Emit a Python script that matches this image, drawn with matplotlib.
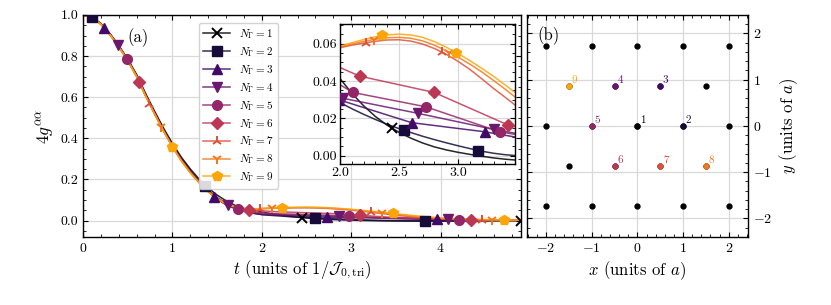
import numpy as np
import matplotlib
matplotlib.use('Agg')
import matplotlib.pyplot as plt
from matplotlib.ticker import AutoMinorLocator, MultipleLocator

plt.rcParams.update({
    'font.family': 'serif',
    'font.serif': ['cmr10'],
    'mathtext.fontset': 'cm',
    'axes.formatter.use_mathtext': True,
    'axes.unicode_minus': True,
    'axes.linewidth': 1.0,
    'xtick.direction': 'in', 'ytick.direction': 'in',
    'xtick.top': True, 'ytick.right': True,
    'xtick.major.size': 3.5, 'ytick.major.size': 3.5,
    'xtick.minor.size': 2.0, 'ytick.minor.size': 2.0,
    'xtick.major.width': 0.8, 'ytick.major.width': 0.8,
    'xtick.minor.width': 0.6, 'ytick.minor.width': 0.6,
    'xtick.minor.visible': True, 'ytick.minor.visible': True,
    'font.size': 10,
})

# ── data: 4 g^{aa}(t) for N_Gamma = 1..9 ────────────────────────────
t_early = [0.0, 0.1, 0.2, 0.3, 0.4, 0.5, 0.6, 0.7, 0.8, 0.9,
           1.0, 1.1, 1.2, 1.3, 1.4, 1.5, 1.6, 1.7, 1.8, 1.9]
t_tail = [2.0, 2.1, 2.2, 2.3, 2.4, 2.5, 2.6, 2.7, 2.8, 2.9, 3.0,
          3.1, 3.2, 3.3, 3.4, 3.5, 3.75, 4.0, 4.25, 4.5, 4.75, 4.9]

g1_early = [1.000, 0.990, 0.958, 0.910, 0.851, 0.785, 0.710, 0.618, 0.532, 0.450,
            0.375, 0.308, 0.251, 0.201, 0.159, 0.124, 0.096, 0.074, 0.059, 0.049]
g2_early = [1.000, 0.989, 0.957, 0.908, 0.849, 0.782, 0.706, 0.613, 0.527, 0.444,
            0.368, 0.300, 0.242, 0.192, 0.148, 0.112, 0.084, 0.063, 0.047, 0.036]
g3_early = [1.000, 0.989, 0.957, 0.907, 0.848, 0.781, 0.704, 0.611, 0.524, 0.441,
            0.364, 0.296, 0.238, 0.187, 0.142, 0.105, 0.077, 0.058, 0.045, 0.036]
g4_early = [1.000, 0.988, 0.956, 0.907, 0.847, 0.780, 0.703, 0.610, 0.523, 0.440,
            0.363, 0.295, 0.237, 0.187, 0.142, 0.105, 0.078, 0.060, 0.047, 0.038]
g5_early = [1.000, 0.988, 0.956, 0.906, 0.847, 0.780, 0.703, 0.609, 0.522, 0.439,
            0.362, 0.294, 0.236, 0.186, 0.142, 0.106, 0.080, 0.062, 0.050, 0.042]
g6_early = [1.000, 0.988, 0.956, 0.906, 0.846, 0.779, 0.702, 0.608, 0.521, 0.438,
            0.361, 0.293, 0.235, 0.185, 0.142, 0.107, 0.081, 0.065, 0.056, 0.050]
g7_early = [1.000, 0.988, 0.955, 0.906, 0.846, 0.779, 0.701, 0.607, 0.520, 0.437,
            0.360, 0.292, 0.234, 0.185, 0.142, 0.108, 0.083, 0.067, 0.058, 0.056]
g8_early = [1.000, 0.988, 0.955, 0.905, 0.845, 0.778, 0.700, 0.606, 0.519, 0.436,
            0.359, 0.291, 0.233, 0.184, 0.141, 0.107, 0.082, 0.066, 0.058, 0.056]
g9_early = [1.000, 0.988, 0.955, 0.905, 0.845, 0.778, 0.700, 0.605, 0.518, 0.435,
            0.358, 0.290, 0.232, 0.183, 0.140, 0.106, 0.081, 0.066, 0.058, 0.056]

g1_tail = [0.0414, 0.0335, 0.0268, 0.0210, 0.0163, 0.0125, 0.0094, 0.0068, 0.0047, 0.0031, 0.0018,
           0.0007, -0.0003, -0.0012, -0.0019, -0.0024, -0.0030, -0.0030, -0.0022, -0.0012, -0.0004, 0.0]
g2_tail = [0.0285, 0.0252, 0.0222, 0.0194, 0.0168, 0.0145, 0.0124, 0.0104, 0.0086, 0.0069, 0.0053,
           0.0038, 0.0024, 0.0013, 0.0005, 0.0000, -0.0010, -0.0012, -0.0008, -0.0004, -0.0001, 0.0]
g7_tail = [0.0578, 0.0592, 0.0603, 0.0613, 0.0620, 0.0621, 0.0614, 0.0598, 0.0574, 0.0543, 0.0505,
           0.0462, 0.0412, 0.0360, 0.0312, 0.0262, 0.0150, 0.0080, 0.0050, 0.0030, 0.0020, 0.0010]
g8_tail = [0.0583, 0.0598, 0.0612, 0.0624, 0.0632, 0.0634, 0.0629, 0.0615, 0.0592, 0.0562, 0.0528,
           0.0490, 0.0449, 0.0403, 0.0355, 0.0305, 0.0190, 0.0110, 0.0060, 0.0040, 0.0020, 0.0020]
g9_tail = [0.0587, 0.0605, 0.0622, 0.0637, 0.0647, 0.0651, 0.0647, 0.0634, 0.0611, 0.0581, 0.0547,
           0.0509, 0.0468, 0.0425, 0.0378, 0.0330, 0.0220, 0.0130, 0.0080, 0.0050, 0.0030, 0.0025]

# N_Gamma = 3..6 only sampled coarsely at late times
t3_tail = [2.0, 2.606, 3.226, 3.85, 4.47, 4.9]
g3_tail = [0.0298, 0.0177, 0.0128, 0.0060, 0.0025, 0.0010]
t4_tail = [2.03, 2.66, 3.30, 3.92, 4.55, 4.9]
g4_tail = [0.0307, 0.0227, 0.0141, 0.0070, 0.0030, 0.0010]
t5_tail = [2.107, 2.727, 3.352, 3.98, 4.6, 4.9]
g5_tail = [0.0339, 0.0262, 0.0128, 0.0060, 0.0020, 0.0010]
t6_tail = [2.169, 2.797, 3.423, 4.05, 4.68, 4.9]
g6_tail = [0.0426, 0.0339, 0.0164, 0.0070, 0.0020, 0.0010]

# marker positions, main panel
mk_t = [[2.45, 4.9],
        [0.1, 1.36, 2.60, 3.83],
        [0.24, 1.47, 2.73, 3.96],
        [0.39, 1.62, 2.86, 4.08],
        [0.49, 1.73, 2.975, 4.21],
        [0.63, 1.855, 3.10, 4.34],
        [0.74, 1.985, 3.22, 4.46],
        [0.877, 2.11, 3.35, 4.58],
        [0.997, 2.23, 3.47, 4.71]]
mk_g = [[0.0144, 0.0],
        [0.989, 0.166, 0.0124, -0.001],
        [0.937, 0.116, 0.0167, 0.0054],
        [0.853, 0.074, 0.0200, 0.0060],
        [0.787, 0.058, 0.0209, 0.0045],
        [0.674, 0.053, 0.0254, 0.0048],
        [0.566, 0.058, 0.0402, 0.0033],
        [0.455, 0.060, 0.0380, 0.0034],
        [0.360, 0.0626, 0.0344, 0.0033]]

# marker positions, inset
ins_t = [[2.437], [2.544, 3.17], [1.99, 2.606, 3.226], [2.03, 2.66, 3.30],
         [2.107, 2.727, 3.352], [2.169, 2.797, 3.423], [2.225, 2.86],
         [2.29, 2.92], [2.354, 2.98]]
ins_g = [[0.0149], [0.0137, 0.0027], [0.0300, 0.0177, 0.0128], [0.0307, 0.0227, 0.0141],
         [0.0339, 0.0262, 0.0128], [0.0426, 0.0339, 0.0164], [0.0605, 0.0555],
         [0.0620, 0.0552], [0.0645, 0.0550]]

# panel (b): triangular lattice and the N_Gamma sites
lat_x = [-2, -1, 0, 1, 2, -1.5, -0.5, 0.5, 1.5, -2, -1, 0, 1, 2,
         -1.5, -0.5, 0.5, 1.5, -2, -1, 0, 1, 2]
lat_y = [1.732] * 5 + [0.866] * 4 + [0.0] * 5 + [-0.866] * 4 + [-1.732] * 5
site_x = [0, 1, 0.5, -0.5, -1, -0.5, 0.5, 1.5, -1.5]
site_y = [0, 0, 0.866, 0.866, 0, -0.866, -0.866, -0.866, 0.866]

n_gamma = [1, 2, 3, 4, 5, 6, 7, 8, 9]

t_lines = [t_early + t_tail, t_early + t_tail, t_early + t3_tail, t_early + t4_tail,
           t_early + t5_tail, t_early + t6_tail, t_early + t_tail, t_early + t_tail,
           t_early + t_tail]
g_lines = [g1_early + g1_tail, g2_early + g2_tail, g3_early + g3_tail, g4_early + g4_tail,
           g5_early + g5_tail, g6_early + g6_tail, g7_early + g7_tail, g8_early + g8_tail,
           g9_early + g9_tail]

colors = plt.cm.inferno(np.linspace(0, 0.8, 9))
markers = ['x', 's', '^', 'v', 'o', 'D', '2', '1', 'p']
msizes = [6.5, 7, 7, 7, 7, 6.5, 7.5, 7.5, 7.5]

fig = plt.figure(figsize=(8.31, 3.05), dpi=100)
ax = fig.add_axes([0.0999, 0.223, 0.527, 0.728])
axi = fig.add_axes([0.409, 0.462, 0.2106, 0.459])
axb = fig.add_axes([0.634, 0.223, 0.266, 0.728])

handles = []
for i in range(9):
    c = colors[i]
    mew = 1.4 if markers[i] in ('x', '1', '2') else 1.0
    ln, = ax.plot(t_lines[i], g_lines[i], color=c, lw=1.1, alpha=0.85, zorder=2 + i * 0.01)
    mk, = ax.plot(mk_t[i], mk_g[i], ls='none', marker=markers[i], ms=msizes[i],
                  color=c, mec=c, mew=mew, zorder=3 + i * 0.01)
    handles.append((ln, mk))
    axi.plot(t_lines[i], g_lines[i], color=c, lw=1.1, alpha=0.85, zorder=2 + i * 0.01)
    axi.plot(ins_t[i], ins_g[i], ls='none', marker=markers[i], ms=msizes[i],
             color=c, mec=c, mew=mew, zorder=3 + i * 0.01)

ax.set_xlim(0, 4.9)
ax.set_ylim(-0.08, 1.0)
ax.xaxis.set_major_locator(MultipleLocator(1))
ax.yaxis.set_major_locator(MultipleLocator(0.2))
ax.xaxis.set_minor_locator(AutoMinorLocator(5))
ax.yaxis.set_minor_locator(AutoMinorLocator(4))
ax.yaxis.set_major_formatter(plt.FormatStrFormatter('%.1f'))
ax.grid(True, color='0.85', lw=0.9)
ax.set_axisbelow(True)
ax.set_xlabel(r'$t$ (units of $1/\mathcal{J}_{0,\mathrm{tri}}$)', fontsize=12, labelpad=3)
ax.set_ylabel(r'$4g^{\alpha\alpha}$', fontsize=12.5, labelpad=3)
ax.text(0.5, 0.89, '(a)', fontsize=12, ha='left', va='center')

leg = ax.legend(handles, [rf'$N_\Gamma = {n}$' for n in n_gamma],
                loc='upper left', bbox_to_anchor=(0.252, 0.99), fontsize=8,
                handlelength=2.4, labelspacing=0.36, borderpad=0.4,
                handletextpad=0.8, framealpha=0.85, edgecolor='0.8', fancybox=True)
leg.set_zorder(5)

axi.set_xlim(2.0, 3.48)
axi.set_ylim(-0.0045, 0.0705)
axi.xaxis.set_major_locator(MultipleLocator(0.5))
axi.yaxis.set_major_locator(MultipleLocator(0.02))
axi.xaxis.set_minor_locator(AutoMinorLocator(5))
axi.yaxis.set_minor_locator(AutoMinorLocator(4))
axi.yaxis.set_major_formatter(plt.FormatStrFormatter('%.2f'))
axi.xaxis.set_major_formatter(plt.FormatStrFormatter('%.1f'))
axi.grid(True, color='0.85', lw=0.9)
axi.set_axisbelow(True)
axi.tick_params(labelsize=10, pad=2)

# panel (b)
axb.plot(lat_x, lat_y, ls='none', marker='o', ms=3.5, color='k', zorder=3)
for i in range(9):
    axb.plot(site_x[i], site_y[i], ls='none', marker='o', ms=3.5, color=colors[i], zorder=4)
    axb.annotate(str(n_gamma[i]), (site_x[i], site_y[i]), xytext=(2, 2),
                 textcoords='offset points', color=colors[i], fontsize=8)
axb.set_xlim(-2.42, 2.42)
axb.set_ylim(-2.4, 2.4)
axb.xaxis.set_major_locator(MultipleLocator(1))
axb.yaxis.set_major_locator(MultipleLocator(1))
axb.xaxis.set_minor_locator(AutoMinorLocator(5))
axb.yaxis.set_minor_locator(AutoMinorLocator(5))
axb.grid(True, color='0.85', lw=0.9)
axb.set_axisbelow(True)
axb.tick_params(which='both', left=True, right=True, labelleft=False, labelright=True)
axb.yaxis.set_label_position('right')
axb.set_xlabel(r'$x$ (units of $a$)', fontsize=12, labelpad=3)
axb.set_ylabel(r'$y$ (units of $a$)', fontsize=12, labelpad=4)
axb.text(-2.2, 1.95, '(b)', fontsize=12, ha='left', va='center')

fig.savefig('out.png', dpi=100)
